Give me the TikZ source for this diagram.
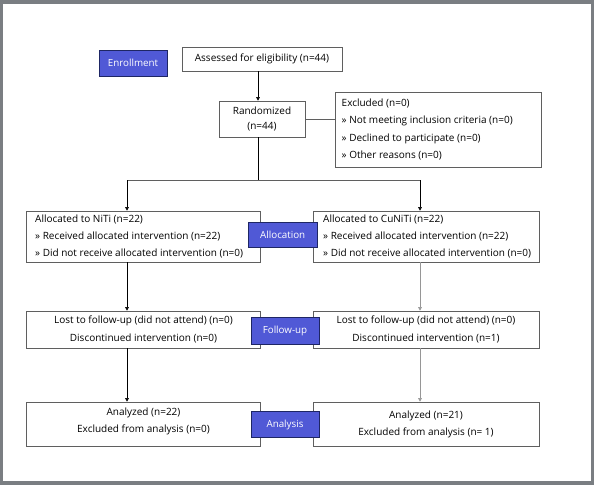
\documentclass[tikz,border=0pt]{standalone}
\usepackage{fontspec}
\setmainfont{Open Sans}
\definecolor{cgframe}{RGB}{122,126,130}
\definecolor{cgphase}{RGB}{80,89,214}
\definecolor{cgphaseline}{RGB}{30,38,100}
\definecolor{cgline}{RGB}{95,95,95}
\definecolor{cgarrowR}{RGB}{150,150,150}
\usetikzlibrary{arrows.meta,positioning,calc}

\begin{document}
\begin{tikzpicture}[x=1pt, y=-1pt,
    box/.style={draw=cgline, line width=0.6pt, fill=white, inner sep=0pt, font=\fontsize{10}{17.4}\selectfont},
    boxtext/.style={inner sep=0pt, align=center, font=\fontsize{10}{17.4}\selectfont},
    phase/.style={draw=cgphaseline, line width=0.6pt, fill=cgphase, text=white, inner sep=0pt, font=\fontsize{9.8}{10}\selectfont},
    flow/.style={line width=0.5pt, -{Triangle[length=3.5pt, width=3.5pt]}}]
  % frame
  \fill[cgframe] (0,0) rectangle (594,485);
  \fill[white] (3,4) rectangle (590.5,480.5);
  \useasboundingbox (0,0) rectangle (594,485);

  % enrollment
  \node[phase, minimum width=68pt, minimum height=26pt] (enrol) at (133,63) {Enrollment};
  \node[box, minimum width=160pt, minimum height=24pt] (assess) at (262,59) {Assessed for eligibility (n=44)};
  \node[box, minimum width=86pt, minimum height=36pt, align=center, font=\fontsize{10}{15}\selectfont] (rand) at (262,119) {Randomized\\(n=44)};
  \node[box, minimum width=206pt, minimum height=75pt] (excl) at (438,129.5) {};
  \node[boxtext, anchor=west, align=left] (excltxt) at (341.5,129.5) {Excluded (n=0)\\» Not meeting inclusion criteria (n=0)\\» Declined to participate (n=0)\\» Other reasons (n=0)};

  % allocation
  \node[box, minimum width=234pt, minimum height=51pt] (alocL) at (143.5,236.5) {};
  \node[boxtext, anchor=west, align=left] (alocLtxt) at (35,236.5) {Allocated to NiTi (n=22)\\» Received allocated intervention (n=22)\\» Did not receive allocated intervention (n=0)};
  \node[box, minimum width=226pt, minimum height=51pt] (alocR) at (426,236.5) {};
  \node[boxtext, anchor=west, align=left] (alocRtxt) at (323,236.5) {Allocated to CuNiTi (n=22)\\» Received allocated intervention (n=22)\\» Did not receive allocated intervention (n=0)};
  \node[phase, minimum width=68.5pt, minimum height=25pt] (allocation) at (282.7,234.5) {Allocation};

  % follow-up
  \node[box, minimum width=234pt, minimum height=37pt, align=center] (fupL) at (143.5,329.5) {Lost to follow-up (did not attend) (n=0)\\Discontinued intervention (n=0)};
  \node[box, minimum width=226pt, minimum height=37pt, align=center] (fupR) at (426,329.5) {Lost to follow-up (did not attend) (n=0)\\Discontinued intervention (n=1)};
  \node[phase, minimum width=68pt, minimum height=27pt] (followup) at (285,330.5) {Follow-up};

  % analysis
  \node[box, minimum width=234pt, minimum height=44pt] (anaL) at (143.5,424) {};
  \node[boxtext] (anaLtxt) at (143.5,421.5) {Analyzed (n=22)\\Excluded from analysis (n=0)};
  \node[box, minimum width=226pt, minimum height=44pt] (anaR) at (426,424) {};
  \node[boxtext] (anaRtxt) at (426,424.5) {Analyzed (n=21)\\Excluded from analysis (n= 1)};
  \node[phase, minimum width=68pt, minimum height=26pt] (analysis) at (285,424.7) {Analysis};

  % connectors
  \coordinate (split) at (258,180);
  \coordinate (colL) at (127,180);
  \coordinate (colR) at (420,180);
  \draw[flow] (assess.south -| split) -- (rand.north -| split);
  \draw[line width=0.6pt, cgline] (rand.east) -- (rand.east -| excl.west);
  \draw[line width=0.5pt] (rand.south -| split) -- (split);
  \draw[line width=0.6pt, cgline] (colL) -- (colR);
  \draw[flow] (colL) -- (colL |- alocL.north);
  \draw[flow] (colR) -- (colR |- alocR.north);
  \draw[flow] (colL |- alocL.south) -- (colL |- fupL.north);
  \draw[flow, draw=cgarrowR] (colR |- alocR.south) -- (colR |- fupR.north);
  \draw[flow] (colL |- fupL.south) -- (colL |- anaL.north);
  \draw[flow, draw=cgarrowR] (colR |- fupR.south) -- (colR |- anaR.north);
\end{tikzpicture}
\end{document}
